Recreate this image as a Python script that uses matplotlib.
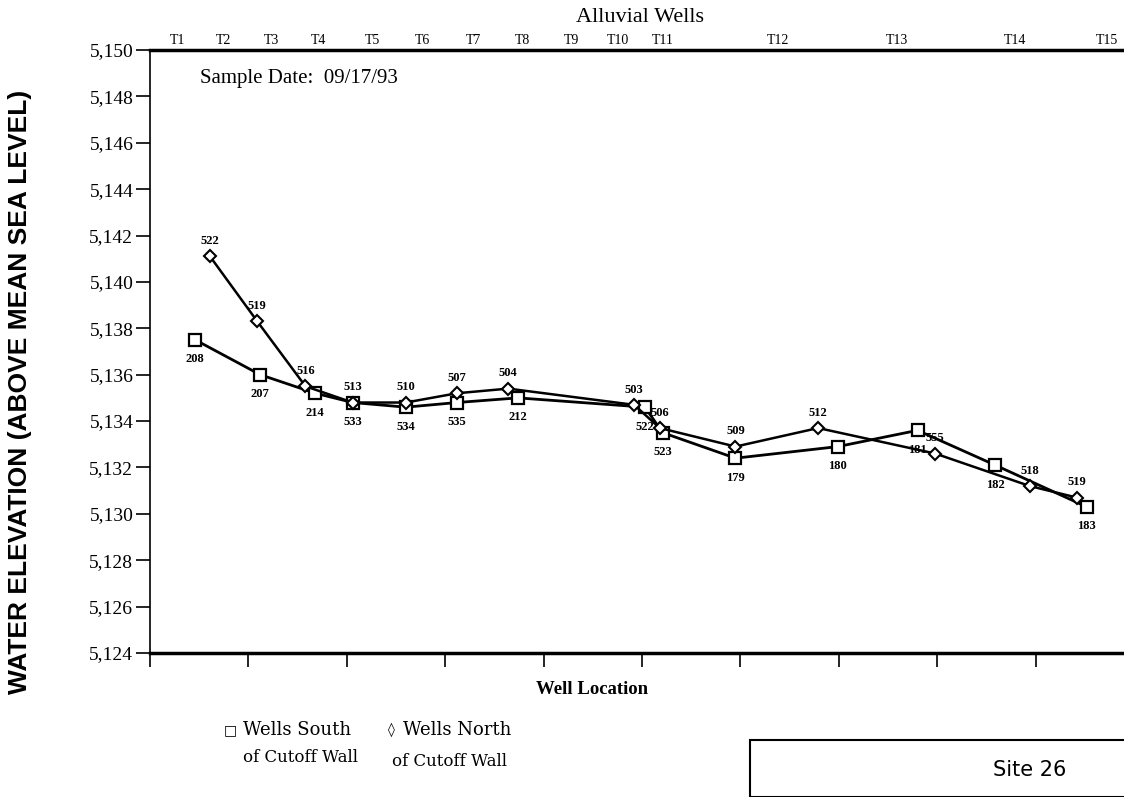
import matplotlib
matplotlib.use("Agg")
import matplotlib.pyplot as plt
from matplotlib.patches import Rectangle

# ---- data ----
south_x = [0.46, 1.12, 1.68, 2.06, 2.60, 3.12, 3.74, 5.03, 5.21, 5.95, 6.99, 7.80, 8.59, 9.52]
south_y = [5137.5, 5136.0, 5135.2, 5134.8, 5134.6, 5134.8, 5135.0, 5134.6, 5133.5, 5132.4, 5132.9, 5133.6, 5132.1, 5130.3]
south_ids = ["208", "207", "214", "533", "534", "535", "212", "522", "523", "179", "180", "181", "182", "183"]

north_x = [0.61, 1.09, 1.58, 2.06, 2.60, 3.12, 3.64, 4.92, 5.18, 5.95, 6.79, 7.98, 8.94, 9.42]
north_y = [5141.1, 5138.3, 5135.5, 5134.8, 5134.8, 5135.2, 5135.4, 5134.7, 5133.7, 5132.9, 5133.7, 5132.6, 5131.2, 5130.7]
north_ids = ["522", "519", "516", "513", "510", "507", "504", "503", "506", "509", "512", "555", "518", "519"]

transect_labels = ["T1", "T2", "T3", "T4", "T5", "T6", "T7", "T8", "T9", "T10", "T11", "T12", "T13", "T14", "T15"]
transect_pos = [0.28, 0.75, 1.23, 1.71, 2.26, 2.77, 3.29, 3.79, 4.28, 4.76, 5.21, 6.38, 7.59, 8.79, 9.72]

yticks = list(range(5124, 5151, 2))
bottom_ticks = list(range(0, 10))

W, H = 1124, 797
fig = plt.figure(figsize=(W / 100, H / 100), dpi=100)

left_px, right_px, top_px, bot_px = 150, 1180, 50, 653
ax = fig.add_axes([left_px / W, 1 - bot_px / H, (right_px - left_px) / W, (bot_px - top_px) / H])
ax.set_xlim(0, (right_px - left_px) / 98.4)
ax.set_ylim(5124, 5150)

serif = "Liberation Serif"

ax.plot(south_x, south_y, color="black", lw=2.0, marker="s", ms=8, mfc="white", mec="black", mew=1.6, zorder=3)
ax.plot(north_x, north_y, color="black", lw=1.8, marker="D", ms=6, mfc="white", mec="black", mew=1.5, zorder=4)

for x, y, t in zip(south_x, south_y, south_ids):
    ax.annotate(t, (x, y), xytext=(0, -14), textcoords="offset points", ha="center", va="center",
                fontsize=9, fontweight="bold", family=serif)
for x, y, t in zip(north_x, north_y, north_ids):
    ax.annotate(t, (x, y), xytext=(0, 11), textcoords="offset points", ha="center", va="center",
                fontsize=9, fontweight="bold", family=serif)

ax.spines["right"].set_visible(False)
ax.spines["top"].set_linewidth(2.5)
ax.spines["bottom"].set_linewidth(2.5)
ax.spines["left"].set_linewidth(1.2)

ax.set_yticks(yticks)
ax.set_yticklabels([f"{v:,}" for v in yticks], family=serif, fontsize=14)
ax.tick_params(axis="y", direction="out", length=10, width=1.2, pad=2)
ax.set_xticks(bottom_ticks)
ax.set_xticklabels([])
ax.tick_params(axis="x", direction="out", length=10, width=1.2)

fig.text(20 / W, 1 - 392 / H, "WATER ELEVATION (ABOVE MEAN SEA LEVEL)",
         family=["Liberation Sans Narrow", "Liberation Sans"], fontweight="bold", fontsize=19,
         rotation=90, ha="center", va="center")

ax2 = ax.secondary_xaxis("top")
ax2.set_xticks(transect_pos)
ax2.set_xticklabels(transect_labels, family=serif, fontsize=10)
ax2.tick_params(length=0, pad=2)
ax2.spines["top"].set_visible(False)

fig.text(640 / W, 1 - 17 / H, "Alluvial Wells", family=serif, fontsize=16, ha="center", va="center")
fig.text(200 / W, 1 - 78 / H, "Sample Date:  09/17/93", family=serif, fontsize=15, ha="left", va="center")
fig.text(592 / W, 1 - 690 / H, "Well Location", family=serif, fontsize=13.5, fontweight="bold",
         ha="center", va="center")

# legend
leg_font = "DejaVu Serif"
fig.text(224 / W, 1 - 730 / H, "\u25a1", family=["DejaVu Sans"], fontsize=10, ha="left", va="center")
fig.text(243 / W, 1 - 730 / H, "Wells South", family=leg_font, fontsize=13, ha="left", va="center")
fig.text(243 / W, 1 - 757 / H, "of Cutoff Wall", family=leg_font, fontsize=12, ha="left", va="center")
fig.text(388 / W, 1 - 730 / H, "\u25ca", family=["DejaVu Sans"], fontsize=10, ha="left", va="center")
fig.text(403 / W, 1 - 730 / H, "Wells North", family=leg_font, fontsize=13, ha="left", va="center")
fig.text(392 / W, 1 - 762 / H, "of Cutoff Wall", family=leg_font, fontsize=12, ha="left", va="center")

fig.patches.append(Rectangle((750 / W, 1 - 797 / H), 400 / W, 57 / H, transform=fig.transFigure,
                             fill=False, lw=1.5, ec="black"))
fig.text(1030 / W, 1 - 770 / H, "Site 26", family="DejaVu Sans", fontsize=15, ha="center", va="center")

fig.savefig("out.png", dpi=100)
